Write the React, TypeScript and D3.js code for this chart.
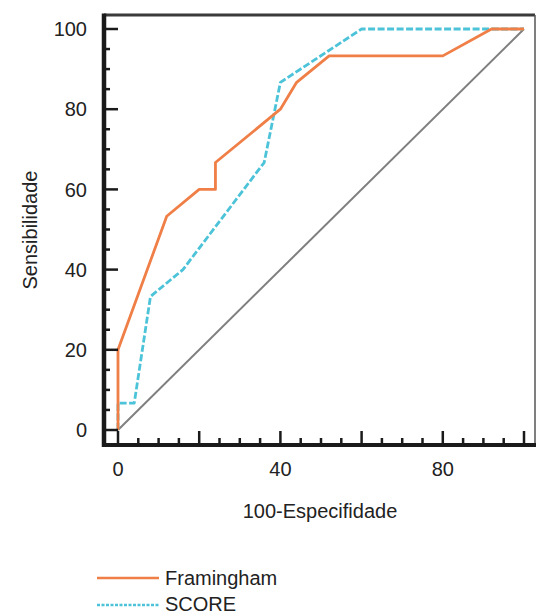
import React from "react";
import * as d3 from "d3";

const framX = [0, 0, 12, 20, 24, 24, 40, 44, 52, 80, 92, 100];
const framY = [0, 20, 53.3, 60, 60, 66.7, 80, 86.7, 93.3, 93.3, 100, 100];
const scoreX = [0, 0, 4, 8, 16, 36, 40, 60, 100];
const scoreY = [0, 6.7, 6.7, 33.3, 40, 66.7, 86.7, 100, 100];
const refX = [0, 100];
const refY = [0, 100];
const tickValues = d3.range(0, 101, 5);
const xLabels = [0, 40, 80];
const yLabels = [0, 20, 40, 60, 80, 100];
const seriesNames = ["Framingham", "SCORE"];
const xTitle = "100-Especifidade";
const yTitle = "Sensibilidade";

const W = 537;
const H = 615;
const FONT = "'Liberation Sans', Arial, Helvetica, sans-serif";
const ORANGE = "#ef7f47";
const CYAN = "#4cc3d8";

export default function App() {
  const x = d3.scaleLinear().domain([0, 100]).range([118, 524]);
  const y = d3.scaleLinear().domain([0, 100]).range([430, 29]);
  const left = 104;
  const bottom = 445;
  const top = 15;
  const right = 535;

  const line = d3
    .line<[number, number]>()
    .x((d) => x(d[0]))
    .y((d) => y(d[1]));
  const zip = (a: number[], b: number[]) => a.map((v, i) => [v, b[i]] as [number, number]);

  return (
    <svg
      width={W}
      height={H}
      style={{ position: "absolute", left: 0, top: 0, background: "#fff" }}
      fontFamily={FONT}
    >
      <rect x={0} y={0} width={W} height={H} fill="#fff" />
      {/* frame */}
      <line x1={left} x2={right} y1={top} y2={top} stroke="#3a3a3a" strokeWidth={3} />
      <line x1={right} x2={right} y1={top} y2={bottom} stroke="#555" strokeWidth={1.5} />

      {/* diagonal reference */}
      <path d={line(zip(refX, refY)) || ""} fill="none" stroke="#7f7f7f" strokeWidth={2} />
      {/* SCORE */}
      <path
        d={line(zip(scoreX, scoreY)) || ""}
        fill="none"
        stroke={CYAN}
        strokeWidth={2.8}
        strokeDasharray="7,2.5"
        strokeLinejoin="round"
      />
      {/* Framingham */}
      <path
        d={line(zip(framX, framY)) || ""}
        fill="none"
        stroke={ORANGE}
        strokeWidth={2.8}
        strokeLinejoin="round"
      />

      {/* y axis */}
      {tickValues.map((t) => (
        <line
          key={"yt" + t}
          x1={left}
          x2={t % 20 === 0 ? 118 : 110}
          y1={y(t)}
          y2={y(t)}
          stroke="#1a1a1a"
          strokeWidth={2.5}
        />
      ))}
      {/* x axis */}
      {tickValues.map((t) => (
        <line
          key={"xt" + t}
          x1={x(t)}
          x2={x(t)}
          y1={bottom}
          y2={t % 20 === 0 ? 431 : 438}
          stroke="#1a1a1a"
          strokeWidth={2.5}
        />
      ))}
      <line x1={left} x2={left} y1={top - 1.5} y2={bottom + 2} stroke="#1a1a1a" strokeWidth={4.5} />
      <line x1={left - 2} x2={right + 1} y1={bottom} y2={bottom} stroke="#1a1a1a" strokeWidth={4} />

      {yLabels.map((t) => (
        <text
          key={"yl" + t}
          x={87}
          y={y(t)}
          dy="0.36em"
          textAnchor="end"
          fontSize={20}
          fill="#222"
        >
          {t}
        </text>
      ))}
      {xLabels.map((t) => (
        <text key={"xl" + t} x={x(t)} y={476} textAnchor="middle" fontSize={20} fill="#222">
          {t}
        </text>
      ))}

      <text x={320} y={518} textAnchor="middle" fontSize={20} fill="#222">
        {xTitle}
      </text>
      <text
        transform={`translate(37,230) rotate(-90)`}
        textAnchor="middle"
        fontSize={20}
        fill="#222"
      >
        {yTitle}
      </text>

      {/* legend */}
      <line x1={97} x2={159} y1={578} y2={578} stroke={ORANGE} strokeWidth={2.6} />
      <text x={165} y={585} fontSize={20} fill="#222">
        {seriesNames[0]}
      </text>
      <line
        x1={97}
        x2={159}
        y1={605}
        y2={605}
        stroke={CYAN}
        strokeWidth={2.6}
        strokeDasharray="3,1.5"
      />
      <text x={165} y={611} fontSize={20} fill="#222">
        {seriesNames[1]}
      </text>
    </svg>
  );
}
